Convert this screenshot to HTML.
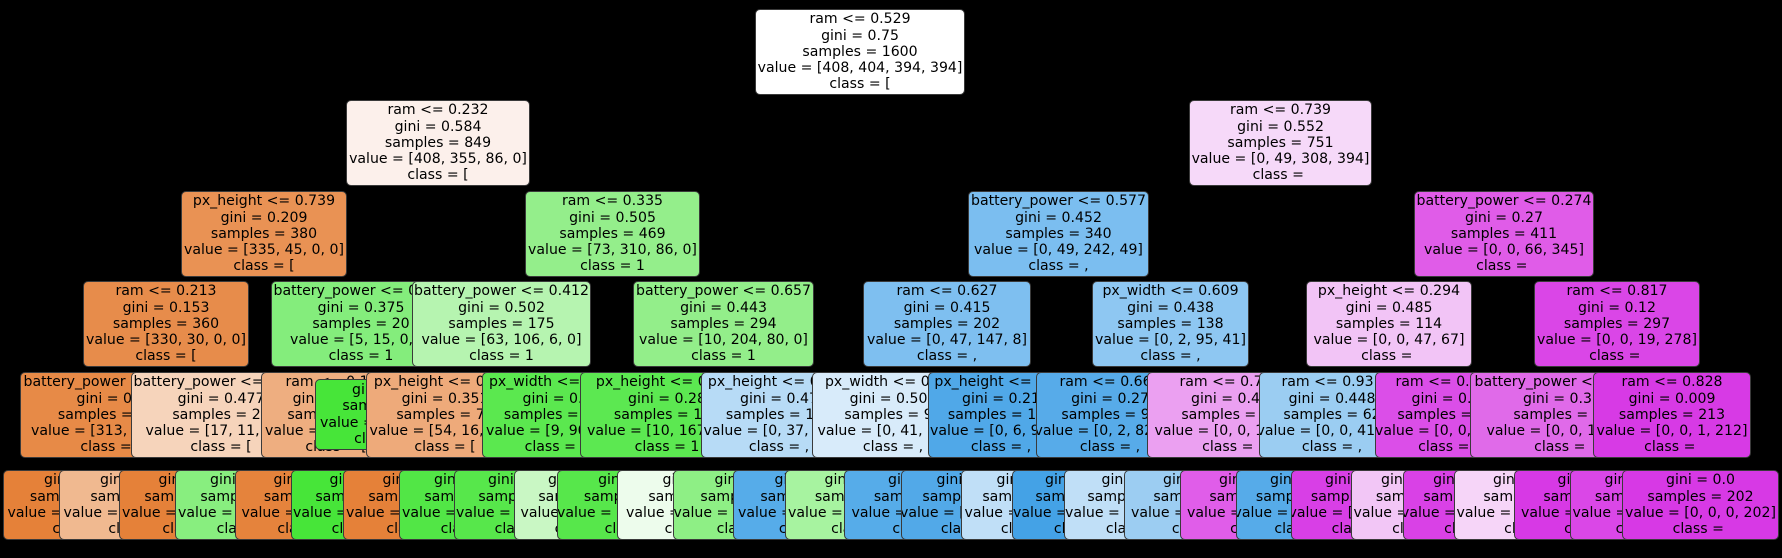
<!DOCTYPE html>
<html><head><meta charset="utf-8"><style>
html,body{margin:0;padding:0;background:#000;}
body{width:1782px;height:558px;position:relative;overflow:hidden;}
.n{position:absolute;box-sizing:border-box;border:1px solid #3a3a3a;border-radius:5px;display:flex;align-items:center;justify-content:center;text-align:center;white-space:pre;font:14.1px/16.3px "DejaVu Sans","Liberation Sans",sans-serif;color:#000;overflow:hidden;height:86px;}
.l{height:70px;top:470px;}
</style></head><body>
<div class="n" style="left:755px;top:9px;width:210px;background:#ffffff">ram &lt;= 0.529
gini = 0.75
samples = 1600
value = [408, 404, 394, 394]
class = [</div>

<div class="n" style="left:346px;top:100px;width:184px;background:#fcf0eb">ram &lt;= 0.232
gini = 0.584
samples = 849
value = [408, 355, 86, 0]
class = [</div>
<div class="n" style="left:1189px;top:100px;width:183px;background:#f6d9f9">ram &lt;= 0.739
gini = 0.552
samples = 751
value = [0, 49, 308, 394]
class = </div>

<div class="n" style="left:181px;top:191px;width:166px;background:#e99254">px_height &lt;= 0.739
gini = 0.209
samples = 380
value = [335, 45, 0, 0]
class = [</div>
<div class="n" style="left:525px;top:191px;width:175px;background:#94ee8b">ram &lt;= 0.335
gini = 0.505
samples = 469
value = [73, 310, 86, 0]
class = 1</div>
<div class="n" style="left:968px;top:191px;width:181px;background:#7bbef0">battery_power &lt;= 0.577
gini = 0.452
samples = 340
value = [0, 49, 242, 49]
class = ,</div>
<div class="n" style="left:1414px;top:191px;width:180px;background:#e05ce8">battery_power &lt;= 0.274
gini = 0.27
samples = 411
value = [0, 0, 66, 345]
class = </div>

<div class="n" style="left:83px;top:281px;width:166px;background:#e78c4b">ram &lt;= 0.213
gini = 0.153
samples = 360
value = [330, 30, 0, 0]
class = [</div>
<div class="n" style="left:271px;top:281px;width:180px;background:#84ed7c">battery_power &lt;= 0.375
gini = 0.375
samples = 20
value = [5, 15, 0, 0]
class = 1</div>
<div class="n" style="left:412px;top:281px;width:179px;background:#b6f4b0">battery_power &lt;= 0.412
gini = 0.502
samples = 175
value = [63, 106, 6, 0]
class = 1</div>
<div class="n" style="left:633px;top:281px;width:181px;background:#93ee8a">battery_power &lt;= 0.657
gini = 0.443
samples = 294
value = [10, 204, 80, 0]
class = 1</div>
<div class="n" style="left:863px;top:281px;width:168px;background:#7ebff0">ram &lt;= 0.627
gini = 0.415
samples = 202
value = [0, 47, 147, 8]
class = ,</div>
<div class="n" style="left:1092px;top:281px;width:157px;background:#8ec7f2">px_width &lt;= 0.609
gini = 0.438
samples = 138
value = [0, 2, 95, 41]
class = ,</div>
<div class="n" style="left:1306px;top:281px;width:166px;background:#f2c4f6">px_height &lt;= 0.294
gini = 0.485
samples = 114
value = [0, 0, 47, 67]
class = </div>
<div class="n" style="left:1534px;top:281px;width:166px;background:#da46e7">ram &lt;= 0.817
gini = 0.12
samples = 297
value = [0, 0, 19, 278]
class = </div>

<div class="n" style="left:20px;top:372px;width:182px;background:#e78a47">battery_power &lt;= 0.119
gini = 0.1
samples = 330
value = [313, 17, 0, 0]
class = [</div>
<div class="n" style="left:131px;top:372px;width:180px;background:#f6d4bb">battery_power &lt;= 0.477
gini = 0.477
samples = 28
value = [17, 11, 0, 0]
class = [</div>
<div class="n" style="left:261px;top:372px;width:150px;background:#eeae80">ram &lt;= 0.114
gini = 0.444
samples = 15
value = [5, 10, 0, 0]
class = [</div>
<div class="n" style="left:315px;top:379px;width:143px;height:71px;background:#47e539">gini = 0.0
samples = 5
value = [0, 5, 0, 0]
class = 1</div>
<div class="n" style="left:366px;top:372px;width:158px;background:#eeaa7a">px_height &lt;= 0.512
gini = 0.351
samples = 70
value = [54, 16, 0, 0]
class = [</div>
<div class="n" style="left:482px;top:372px;width:150px;background:#5be84f">px_width &lt;= 0.213
gini = 0.2
samples = 105
value = [9, 90, 6, 0]
class = 1</div>
<div class="n" style="left:580px;top:372px;width:174px;background:#5ce851">px_height &lt;= 0.281
gini = 0.28
samples = 181
value = [10, 167, 4, 0]
class = 1</div>
<div class="n" style="left:701px;top:372px;width:156px;background:#b7dbf6">px_height &lt;= 0.473
gini = 0.47
samples = 113
value = [0, 37, 76, 0]
class = ,</div>
<div class="n" style="left:812px;top:372px;width:162px;background:#d8ebfa">px_width &lt;= 0.504
gini = 0.504
samples = 97
value = [0, 41, 55, 1]
class = ,</div>
<div class="n" style="left:928px;top:372px;width:146px;background:#50a8e8">px_height &lt;= 0.21
gini = 0.21
samples = 105
value = [0, 6, 92, 7]
class = ,</div>
<div class="n" style="left:1036px;top:372px;width:148px;background:#57abe9">ram &lt;= 0.661
gini = 0.27
samples = 98
value = [0, 2, 82, 14]
class = ,</div>
<div class="n" style="left:1147px;top:372px;width:166px;background:#eba0f1">ram &lt;= 0.712
gini = 0.45
samples = 40
value = [0, 0, 13, 27]
class = </div>
<div class="n" style="left:1259px;top:372px;width:146px;background:#9bcdf2">ram &lt;= 0.931
gini = 0.448
samples = 62
value = [0, 0, 41, 21]
class = ,</div>
<div class="n" style="left:1375px;top:372px;width:142px;background:#db4ee8">ram &lt;= 0.912
gini = 0.2
samples = 52
value = [0, 0, 6, 46]
class = </div>
<div class="n" style="left:1470px;top:372px;width:184px;background:#e06ae9">battery_power &lt;= 0.331
gini = 0.33
samples = 84
value = [0, 0, 18, 66]
class = </div>
<div class="n" style="left:1593px;top:372px;width:158px;background:#d73ae5">ram &lt;= 0.828
gini = 0.009
samples = 213
value = [0, 0, 1, 212]
class = </div>

<div class="n l" style="left:3px;width:160px;background:#e58139">gini = 0.06
samples = 305
value = [300, 5, 0, 0]
class = [</div>
<div class="n l" style="left:59px;width:160px;background:#f0b990">gini = 0.45
samples = 25
value = [13, 12, 0, 0]
class = [</div>
<div class="n l" style="left:119px;width:148px;background:#e58139">gini = 0.0
samples = 12
value = [12, 0, 0, 0]
class = [</div>
<div class="n l" style="left:175px;width:148px;background:#88ee7f">gini = 0.36
samples = 16
value = [5, 11, 0, 0]
class = 1</div>
<div class="n l" style="left:235px;width:146px;background:#e5833c">gini = 0.0
samples = 5
value = [5, 0, 0, 0]
class = [</div>
<div class="n l" style="left:291px;width:146px;background:#47e539">gini = 0.0
samples = 10
value = [0, 10, 0, 0]
class = 1</div>
<div class="n l" style="left:343px;width:148px;background:#e58139">gini = 0.0
samples = 50
value = [50, 0, 0, 0]
class = [</div>
<div class="n l" style="left:399px;width:148px;background:#52e646">gini = 0.32
samples = 20
value = [4, 16, 0, 0]
class = 1</div>
<div class="n l" style="left:454px;width:146px;background:#57e74b">gini = 0.15
samples = 90
value = [5, 85, 0, 0]
class = 1</div>
<div class="n l" style="left:514px;width:146px;background:#c9f7c4">gini = 0.59
samples = 15
value = [4, 5, 6, 0]
class = 1</div>
<div class="n l" style="left:557px;width:160px;background:#57e74b">gini = 0.18
samples = 164
value = [10, 150, 4, 0]
class = 1</div>
<div class="n l" style="left:617px;width:160px;background:#edfcec">gini = 0.5
samples = 17
value = [0, 17, 0, 0]
class = 1</div>
<div class="n l" style="left:673px;width:152px;background:#8eef85">gini = 0.4
samples = 40
value = [0, 29, 11, 0]
class = 1</div>
<div class="n l" style="left:733px;width:152px;background:#56ace9">gini = 0.2
samples = 73
value = [0, 8, 65, 0]
class = ,</div>
<div class="n l" style="left:785px;width:157px;background:#a7f3a0">gini = 0.44
samples = 60
value = [0, 40, 19, 1]
class = 1</div>
<div class="n l" style="left:844px;width:157px;background:#56ace9">gini = 0.1
samples = 37
value = [0, 1, 36, 0]
class = ,</div>
<div class="n l" style="left:901px;width:140px;background:#52a9e8">gini = 0.1
samples = 90
value = [0, 3, 86, 1]
class = ,</div>
<div class="n l" style="left:961px;width:140px;background:#c0dff7">gini = 0.5
samples = 15
value = [0, 3, 6, 6]
class = ,</div>
<div class="n l" style="left:1012px;width:144px;background:#44a2e6">gini = 0.06
samples = 80
value = [0, 1, 78, 1]
class = ,</div>
<div class="n l" style="left:1064px;width:144px;background:#c0dff7">gini = 0.5
samples = 18
value = [0, 1, 4, 13]
class = ,</div>
<div class="n l" style="left:1124px;width:156px;background:#9ccdf2">gini = 0.44
samples = 16
value = [0, 0, 11, 5]
class = ,</div>
<div class="n l" style="left:1180px;width:156px;background:#e05de9">gini = 0.25
samples = 24
value = [0, 0, 2, 22]
class = </div>
<div class="n l" style="left:1236px;width:137px;background:#56abe9">gini = 0.2
samples = 44
value = [0, 0, 39, 5]
class = ,</div>
<div class="n l" style="left:1291px;width:137px;background:#d83fe6">gini = 0.1
samples = 18
value = [0, 0, 2, 16]
class = </div>
<div class="n l" style="left:1351px;width:138px;background:#f2c6f6">gini = 0.49
samples = 9
value = [0, 0, 4, 5]
class = </div>
<div class="n l" style="left:1403px;width:138px;background:#d941e6">gini = 0.05
samples = 43
value = [0, 0, 2, 41]
class = </div>
<div class="n l" style="left:1454px;width:156px;background:#f6d5f8">gini = 0.49
samples = 25
value = [0, 0, 11, 14]
class = </div>
<div class="n l" style="left:1514px;width:156px;background:#d739e5">gini = 0.0
samples = 59
value = [0, 0, 7, 52]
class = </div>
<div class="n l" style="left:1570px;width:147px;background:#da47e7">gini = 0.09
samples = 11
value = [0, 0, 1, 10]
class = </div>
<div class="n l" style="left:1622px;width:157px;background:#d739e5">gini = 0.0
samples = 202
value = [0, 0, 0, 202]
class = </div>
</body></html>
